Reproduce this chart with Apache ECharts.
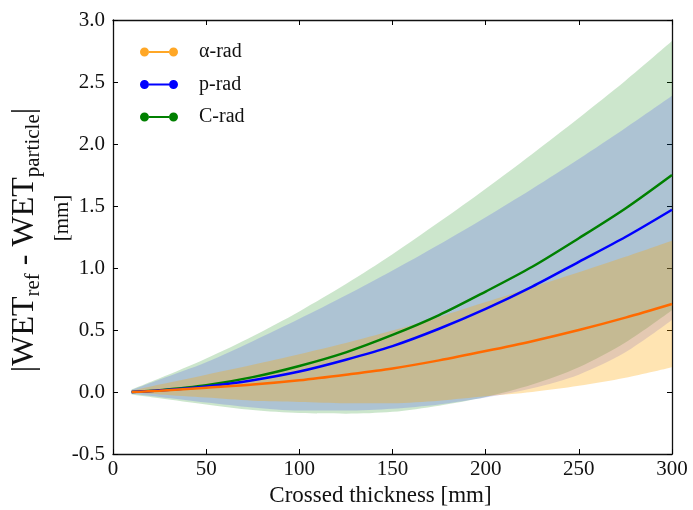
<!DOCTYPE html>
<html>
<head>
<meta charset="utf-8">
<script src="https://cdn.jsdelivr.net/npm/echarts@6/dist/echarts.min.js"></script>
<style>
    html, body { margin: 0; padding: 0; background: #fff; }
    #chart { width: 693px; height: 510px; }
</style>
</head>
<body>
<div id="chart"></div>
<script type="text/javascript">
    // crossed thickness [mm]
    var xs = [10, 25, 50, 75, 100, 125, 150, 175, 200, 225, 250, 275, 300];

    // mean curves
    var alphaRad = [0, 0.01, 0.035, 0.06, 0.095, 0.14, 0.19, 0.255, 0.33, 0.41, 0.5, 0.6, 0.71];
    var pRad     = [0, 0.012, 0.045, 0.095, 0.165, 0.26, 0.37, 0.51, 0.67, 0.85, 1.05, 1.25, 1.47];
    var cRad     = [0, 0.015, 0.055, 0.12, 0.21, 0.32, 0.46, 0.62, 0.81, 1.01, 1.24, 1.48, 1.75];

    // bands (lower / upper)
    var alphaLow = [-0.005, -0.02, -0.045, -0.07, -0.08, -0.09, -0.09, -0.07, -0.035, 0.0, 0.05, 0.115, 0.2];
    var alphaUp  = [0.01, 0.06, 0.14, 0.22, 0.305, 0.395, 0.495, 0.605, 0.725, 0.845, 0.965, 1.09, 1.22];
    var pLow     = [-0.015, -0.04, -0.085, -0.125, -0.15, -0.15, -0.135, -0.1, -0.045, 0.03, 0.14, 0.32, 0.58];
    var pUp      = [0.015, 0.1, 0.24, 0.41, 0.59, 0.78, 0.98, 1.19, 1.41, 1.64, 1.88, 2.13, 2.39];
    var cLow     = [-0.02, -0.05, -0.1, -0.145, -0.17, -0.175, -0.16, -0.11, -0.04, 0.06, 0.2, 0.4, 0.66];
    var cUp      = [0.02, 0.11, 0.27, 0.45, 0.65, 0.87, 1.11, 1.37, 1.64, 1.92, 2.21, 2.51, 2.83];

    var yTicks = [-0.5, 0.0, 0.5, 1.0, 1.5, 2.0, 2.5, 3.0];

    var serif = "'Liberation Serif', 'DejaVu Serif', serif";

    function pairs(ys) {
        return xs.map(function (x, i) { return [x, ys[i]]; });
    }
    // [y, x] order so that the stack runs on the y value
    function yFirst(ys) {
        return xs.map(function (x, i) { return [ys[i], x]; });
    }
    function diff(hi, lo) {
        return xs.map(function (x, i) { return [hi[i] - lo[i], x]; });
    }

    // band = invisible lower line + stacked area of (upper - lower)
    function band(id, lo, hi, color, opacity) {
        return [{
            name: id + '-lo', type: 'line', stack: id, stackStrategy: 'all',
            data: yFirst(lo), encode: { x: 1, y: 0 },
            smooth: 0.3, symbol: 'none', silent: true,
            lineStyle: { opacity: 0 }
        }, {
            name: id + '-hi', type: 'line', stack: id, stackStrategy: 'all',
            data: diff(hi, lo), encode: { x: 1, y: 0 },
            smooth: 0.3, symbol: 'none', silent: true,
            lineStyle: { opacity: 0 },
            areaStyle: { color: color, opacity: opacity }
        }];
    }

    var icon = 'path://M0,4.5 a4.5,4.5 0 1,0 9,0 a4.5,4.5 0 1,0 -9,0 Z M29,4.5 a4.5,4.5 0 1,0 9,0 a4.5,4.5 0 1,0 -9,0 Z M9,3.5 L29,3.5 L29,5.5 L9,5.5 Z';

    var chart = echarts.init(document.getElementById('chart'));

    var tickStyle = { show: true, inside: true, length: 5, lineStyle: { color: '#000' } };
    var lineAxis = { show: true, onZero: false, lineStyle: { color: '#111', width: 1.3 } };

    var series = []
        .concat(band('c', cLow, cUp, '#008000', 0.2))
        .concat(band('p', pLow, pUp, '#0000ff', 0.15))
        .concat(band('a', alphaLow, alphaUp, '#ffa500', 0.3))
        .concat([{
            name: 'C-rad', type: 'line', data: pairs(cRad), smooth: 0.3, symbol: 'none',
            color: '#008000', lineStyle: { width: 2.5, color: '#008000' }
        }, {
            name: 'p-rad', type: 'line', data: pairs(pRad), smooth: 0.3, symbol: 'none',
            color: '#0000ff', lineStyle: { width: 2.5, color: '#0000ff' }
        }, {
            name: 'α-rad', type: 'line', data: pairs(alphaRad), smooth: 0.3, symbol: 'none',
            color: '#ff6a00', lineStyle: { width: 2.5, color: '#ff6a00' }
        }]);

    var option = {
        animation: false,
        backgroundColor: '#fff',
        grid: { left: 113, right: 21, top: 20, bottom: 56, containLabel: false, outerBoundsMode: 'none' },
        // y axis title, two lines with subscripts
        graphic: [{
            type: 'text', x: 25, y: 240, rotation: Math.PI / 2,
            style: {
                text: '{a|\u007CWET}{s|ref}{a| - WET}{s|particle}{a|\u007C}',
                align: 'center', verticalAlign: 'middle',
                rich: {
                    a: { fontFamily: serif, fontSize: 32, lineHeight: 38, fill: '#111' },
                    s: { fontFamily: serif, fontSize: 21, lineHeight: 19, verticalAlign: 'bottom', fill: '#111' }
                }
            }
        }, {
            type: 'text', x: 62, y: 218, rotation: Math.PI / 2,
            style: {
                text: '[mm]', fontFamily: serif, fontSize: 21, fill: '#111',
                align: 'center', verticalAlign: 'middle'
            }
        }],
        legend: {
            orient: 'vertical', left: 140, top: 42, padding: 0,
            itemWidth: 38, itemHeight: 9, itemGap: 12.5,
            data: [
                { name: 'α-rad', icon: icon, itemStyle: { color: '#ffa726' } },
                { name: 'p-rad', icon: icon, itemStyle: { color: '#0000ff' } },
                { name: 'C-rad', icon: icon, itemStyle: { color: '#008000' } }
            ],
            textStyle: { fontFamily: serif, fontSize: 20, color: '#111', lineHeight: 20, padding: [0, 0, 0, 16] }
        },
        xAxis: [{
            type: 'value', min: 0, max: 300, interval: 50,
            name: 'Crossed thickness [mm]', nameLocation: 'middle', nameGap: 29,
            nameTextStyle: { fontFamily: serif, fontSize: 23, color: '#111', padding: [0, 24, 0, 0] },
            axisLine: lineAxis, axisTick: tickStyle, splitLine: { show: false },
            axisLabel: { fontFamily: serif, fontSize: 21, color: '#111', margin: 5 }
        }, {
            type: 'value', min: 0, max: 300, interval: 50, position: 'top',
            axisLine: lineAxis, axisTick: tickStyle, splitLine: { show: false },
            axisLabel: { show: false }
        }],
        yAxis: [{
            type: 'value', min: yTicks[0], max: yTicks[yTicks.length - 1], interval: 0.5,
            axisLine: lineAxis, axisTick: tickStyle, splitLine: { show: false },
            axisLabel: {
                fontFamily: serif, fontSize: 21, color: '#111', margin: 8,
                formatter: function (v) { return v.toFixed(1); }
            }
        }, {
            type: 'value', min: yTicks[0], max: yTicks[yTicks.length - 1], interval: 0.5, position: 'right',
            axisLine: lineAxis, axisTick: tickStyle, splitLine: { show: false },
            axisLabel: { show: false }
        }],
        series: series
    };

    chart.setOption(option);
</script>
</body>
</html>
